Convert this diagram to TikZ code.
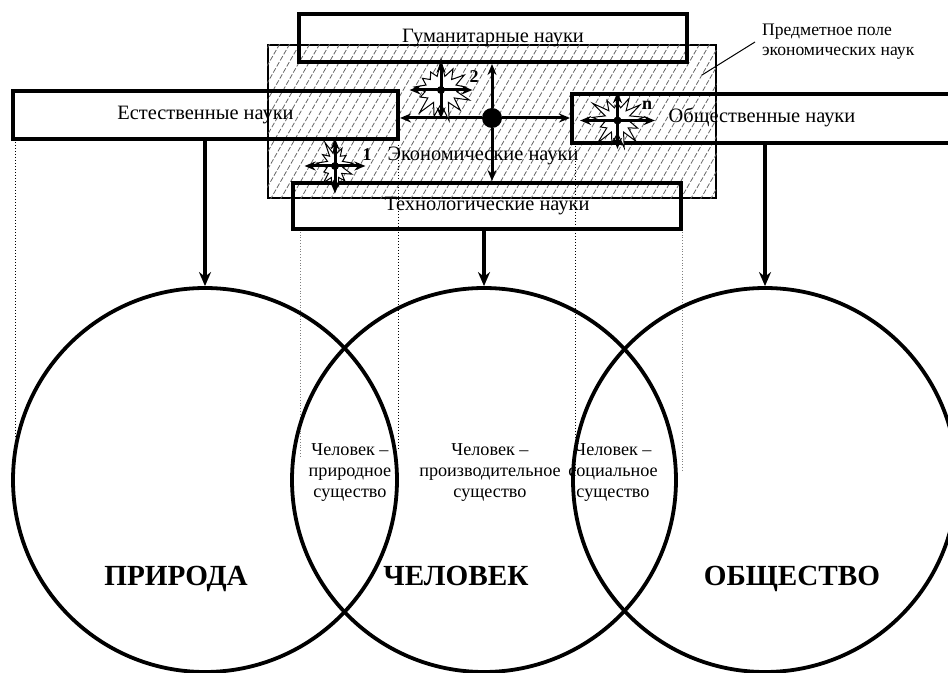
\documentclass[tikz,border=0pt]{standalone}
\usepackage{fontspec}
\setmainfont{Liberation Serif}
\usetikzlibrary{arrows.meta,shapes.symbols}
\tikzset{
  box/.style={draw,line width=2pt,inner sep=0pt},
  field/.style={draw,line width=0.6pt,inner sep=0pt},
  hatch/.style={black!60,line width=0.4pt,dash pattern=on 2.5pt off 1pt},
  sphere/.style={draw,circle,line width=1.9pt,minimum size=192pt,inner sep=0pt},
  burst/.style={draw,fill=white,starburst,starburst points=13,starburst point height=9pt,line width=0.5pt,inner sep=0pt},
  span/.style 2 args={inner sep=0pt,minimum width=#1,minimum height=#2},
  arr/.style={line width=1.5pt,-{Stealth[length=5.5pt,width=4.5pt]}},
  down/.style={line width=2pt,-{Stealth[length=7pt,width=6pt]}},
  guide/.style={densely dotted,line width=0.5pt},
  faint/.style={gray,densely dotted,line width=0.4pt},
  sci/.style={font=\fontsize{10.2}{12}\selectfont},
  role/.style={font=\fontsize{9.1}{10.5}\selectfont,align=center},
  realm/.style={font=\fontsize{14.6}{16}\selectfont\bfseries,anchor=base},
  idx/.style={font=\fontsize{9}{10}\selectfont\bfseries},
}
\begin{document}
\begin{tikzpicture}[x=0.5pt,y=-0.5pt]
\useasboundingbox (0,0) rectangle (948,673);
\clip (0,0) rectangle (948,673);

\node[field,minimum width=224pt,minimum height=76.5pt] (pole) at (492,121.5) {};
\begin{scope}
  \clip (pole.south west) rectangle (pole.north east);
  \foreach \i in {0,...,56}
    \draw[hatch] (170+10*\i,200) -- ++(92,-160);
\end{scope}

\draw[guide] (15,139) -- (15,438);
\draw[guide] (398,145) -- (398,450);
\draw[guide] (575,143) -- (575,473);
\draw[faint] (300,229) -- (300,457);
\draw[faint] (682,229) -- (682,470);

\node[box,minimum width=194pt,minimum height=24pt,sci] (gum) at (493,38) {Гуманитарные науки};
\node[box,minimum width=192.5pt,minimum height=24pt,sci] (nat) at (205.5,115) {Естественные науки};
\node[box,minimum width=194pt,minimum height=24.5pt] (obsh) at (766,118.5) {};
\node[sci] (obshtxt) at (762,117) {Общественные науки};
\node[box,minimum width=194pt,minimum height=23pt,sci] (tech) at (487,206) {Технологические науки};
\node[sci] (econ) at (483,156) {Экономические науки};

\node[font=\fontsize{8.8}{10}\selectfont,align=left,anchor=west] (polelbl) at (755,42) {Предметное поле\\экономических наук};
\coordinate (polept) at (702,75);
\draw[line width=0.5pt] (polelbl.west) -- (polept);

\node[sphere] (nature) at (205,480) {};
\node[sphere] (man) at (484,480) {};
\node[sphere] (society) at (765,480) {};

\node[realm] (naturetxt) at (176,585) {ПРИРОДА};
\node[realm] (mantxt) at (456,585) {ЧЕЛОВЕК};
\node[realm] (societytxt) at (792,585) {ОБЩЕСТВО};

\node[role] (role1) at (350,473) {Человек –\\природное\\существо};
\node[role] (role2) at (490,473) {Человек –\\производительное\\существо};
\node[role] (role3) at (613,473) {Человек –\\социальное\\существо};

\draw[down] (nat.south -| nature) -- (nature.north);
\draw[down] (tech.south -| man) -- (man.north);
\draw[down] (obsh.south -| society) -- (society.north);

\node[circle,fill,minimum size=10pt,inner sep=0pt] (hub) at (492,118) {};
\draw[arr] (hub) -- (hub |- gum.south);
\draw[arr] (hub) -- (hub |- tech.north);
\draw[arr] (hub) -- (hub -| nat.east);
\draw[arr] (hub) -- (hub -| obsh.west);

\node[burst,minimum width=22pt,minimum height=27pt,starburst point height=7pt,random starburst=11] (b1) at (335,166) {};
\node[span={30pt}{27pt}] (k1) at (b1) {};
\node[burst,minimum width=34pt,minimum height=32pt,random starburst=7] (b2) at (441,90) {};
\node[span={31pt}{28pt}] (k2) at (b2) {};
\node[burst,minimum width=31pt,minimum height=31pt,random starburst=23] (bn) at (617.5,120.5) {};
\node[span={37pt}{28pt}] (kn) at (bn) {};
\foreach \k in {k1,k2,kn}{
  \foreach \a in {north,south,east,west}
    \draw[arr] (\k.center) -- (\k.\a);
  \fill (\k) circle (2pt);
}
\node[idx] (i1) at (367,155) {1};
\node[idx] (i2) at (474,77) {2};
\node[idx] (in) at (647,105) {n};
\end{tikzpicture}
\end{document}
